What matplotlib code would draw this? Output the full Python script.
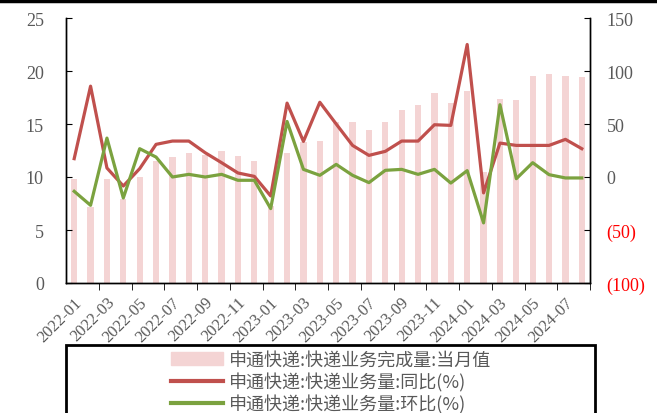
import matplotlib
matplotlib.use("Agg")
import matplotlib.pyplot as plt
from matplotlib.lines import Line2D
from matplotlib.patches import Rectangle
from matplotlib.transforms import ScaledTranslation
import numpy as np

plt.rcParams['font.family'] = ['Liberation Serif', 'Noto Sans CJK SC', 'DejaVu Sans']

months = ['2022-01', '2022-02', '2022-03', '2022-04', '2022-05', '2022-06', '2022-07', '2022-08',
          '2022-09', '2022-10', '2022-11', '2022-12', '2023-01', '2023-02', '2023-03', '2023-04',
          '2023-05', '2023-06', '2023-07', '2023-08', '2023-09', '2023-10', '2023-11', '2023-12',
          '2024-01', '2024-02', '2024-03', '2024-04', '2024-05', '2024-06', '2024-07', '2024-08']

# 快递业务完成量 当月值 (亿件)
volume = [9.8, 7.2, 9.8, 7.9, 10.0, 11.5, 11.9, 12.3, 12.1, 12.5, 12.0, 11.5,
          7.3, 12.3, 13.3, 13.4, 15.2, 15.2, 14.4, 15.2, 16.3, 16.8, 17.9, 17.0,
          18.1, 10.5, 17.4, 17.3, 19.5, 19.7, 19.5, 19.4]
# 同比(%)
yoy = [17.3, 85.7, 8.5, -8.5, 7.9, 30.8, 33.9, 33.9, 22.9, 13.5, 3.8, 0.6,
       -17.9, 69.7, 33.6, 70.5, 50.0, 29.8, 20.4, 24.2, 33.9, 33.9, 49.3, 48.7,
       125.0, -15.0, 32.0, 29.8, 29.8, 29.8, 35.5, 26.7]
# 环比(%)
mom = [-13.5, -26.7, 36.7, -19.8, 26.7, 18.8, 0.0, 2.5, 0.0, 2.5, -3.1, -3.1,
       -29.8, 52.4, 7.2, 1.6, 11.9, 1.6, -5.3, 6.3, 7.2, 2.5, 7.2, -5.7,
       6.0, -43.3, 68.2, -1.6, 13.5, 2.2, -0.9, -0.9]

labels = ['申通快递:快递业务完成量:当月值', '申通快递:快递业务量:同比(%)', '申通快递:快递业务量:环比(%)']

grey = '#595959'
bar_color = '#F4D4D4'
red = '#C0504D'
green = '#7BA23F'

fig = plt.figure(figsize=(6.57, 4.14), dpi=100)
ax = fig.add_axes([66 / 657, 1 - 284 / 414, 524 / 657, 265 / 414])
ax2 = ax.twinx()

x = np.arange(len(months))
ax.bar(x, volume, width=0.38, color=bar_color, zorder=1)
ax2.plot(x, yoy, color=red, lw=2.3, zorder=3)
ax2.plot(x, mom, color=green, lw=2.3, zorder=3)

ax.set_xlim(-0.5, len(months) - 0.5)
ax.set_ylim(0, 25)
ax.set_yticks(np.arange(0, 26, 5))
ax2.set_ylim(-100, 150)
ax2.set_yticks(np.arange(-100, 151, 50))

# x labels at category centres, tick marks on category boundaries (every 2)
ax.set_xticks(x[::2])
ax.set_xticklabels(months[::2], rotation=45, ha='right', va='center', rotation_mode='anchor')
ax.set_xticks(np.arange(1.5, len(months), 2), minor=True)
ax.tick_params(axis='x', which='major', length=0, pad=12, labelsize=12, labelcolor=grey)
ax.tick_params(axis='x', which='minor', length=5, direction='out', color='black')
shift = ScaledTranslation(5 / 100, 0, fig.dpi_scale_trans)
for t in ax.get_xticklabels():
    t.set_transform(t.get_transform() + shift)

ax.tick_params(axis='y', direction='in', length=4, labelsize=13, labelcolor=grey, pad=16)
ax2.tick_params(axis='y', direction='in', length=4, labelsize=13, pad=12)

rlabels = []
for v in ax2.get_yticks():
    rlabels.append('(%d)' % abs(v) if v < 0 else '%d' % v)
ax2.set_yticklabels(rlabels)
for t, v in zip(ax2.get_yticklabels(), ax2.get_yticks()):
    t.set_color('red' if v < 0 else grey)

for a in (ax, ax2):
    a.spines['top'].set_visible(False)
    for s in ('left', 'right', 'bottom'):
        a.spines[s].set_color('black')
        a.spines[s].set_linewidth(1.0)

# legend
handles = [Rectangle((0, 0), 1, 1, color=bar_color),
           Line2D([], [], color=red, lw=3),
           Line2D([], [], color=green, lw=3)]
fig.legend(handles, labels, loc='upper left', bbox_to_anchor=(171 / 657, 1 - 352 / 414),
           frameon=False, prop={'family': ['Noto Sans CJK SC'], 'size': 13, 'weight': 'light'},
           labelcolor=grey, handlelength=2.9, handletextpad=0.3, labelspacing=0.17,
           borderaxespad=0, borderpad=0)
fig.add_artist(Rectangle((66 / 657, -0.02), (595 - 66) / 657, (416 - 348) / 414 + 0.02,
                         transform=fig.transFigure, fill=False, edgecolor='black', lw=2))

# frame line at the very top
fig.add_artist(Line2D([0, 1], [0.996, 0.996], transform=fig.transFigure, color='black', lw=2.5))

fig.savefig('out.png', dpi=100)
